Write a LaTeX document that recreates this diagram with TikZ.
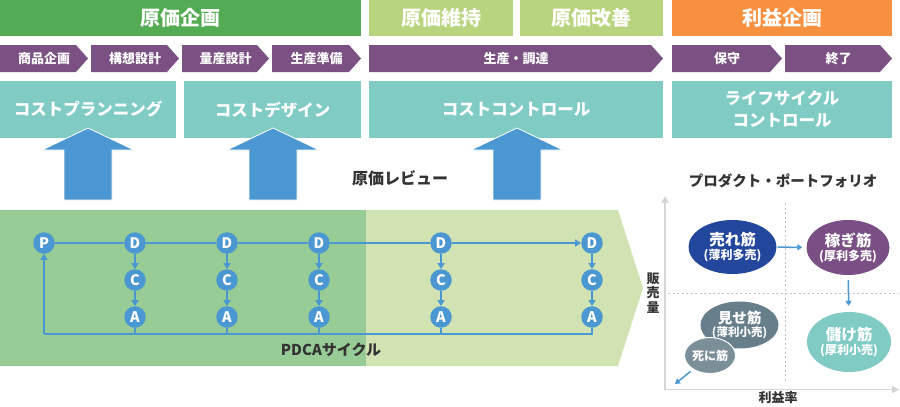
\documentclass[tikz,border=0pt]{standalone}
\usepackage{fontspec}
\setmainfont{Noto Sans CJK JP}
\usetikzlibrary{arrows.meta,shapes.geometric}
\definecolor{gDark}{HTML}{53AC53}
\definecolor{gLightBan}{HTML}{B8D47E}
\definecolor{orangeB}{HTML}{F7913F}
\definecolor{purpleB}{HTML}{7B5083}
\definecolor{tealB}{HTML}{80CBC4}
\definecolor{blueA}{HTML}{4A97D1}
\definecolor{gMid}{HTML}{98CC96}
\definecolor{gPale}{HTML}{D2E3B3}
\definecolor{txtDark}{HTML}{333333}
\definecolor{eBlue}{HTML}{23479C}
\definecolor{ePurple}{HTML}{7A4F85}
\definecolor{eTeal}{HTML}{80CBC3}
\definecolor{eGray}{HTML}{677F8A}
\definecolor{eGrayL}{HTML}{7B8F99}
\definecolor{axisG}{HTML}{D5D5D5}
\definecolor{dotG}{HTML}{BFBFBF}
\newcommand\mychev[4]{%
  \fill[purpleB] (#1,45) -- ({#2-12},45) -- (#2,58.5) -- ({#2-12},72) -- (#1,72) -- cycle;
  \node[chevtext] (#3) at ({(#1+#2)/2},58.5) {#4};}
\newcommand\bigup[2]{%
  \draw[draw=white, line width=0.8pt, fill=blueA] ({#1-24},200) -- ({#1-24},150) -- ({#1-46},150) -- (#1,128) -- ({#1+46},150) -- ({#1+24},150) -- ({#1+24},200) -- cycle;
  \coordinate (#2) at (#1,165);}
\begin{document}
\begin{tikzpicture}[x=1pt,y=-1pt,
  banner/.style={minimum height=36pt, inner sep=0pt, text=white, font=\fontsize{20}{22}\selectfont\bfseries},
  chevtext/.style={inner sep=0pt, text=white, font=\fontsize{13}{15}\selectfont\bfseries},
  tealbox/.style={fill=tealB, minimum height=57pt, inner sep=0pt, text=white, align=center, font=\fontsize{16.5}{22}\selectfont\bfseries},
  pdca/.style={circle, fill=blueA, minimum size=21.5pt, inner sep=0pt, text=white, font=\fontsize{14.5}{14.5}\selectfont\bfseries},
  pline/.style={draw=blueA, line width=1.8pt},
  ptip/.style={pline, -{Triangle[length=6pt,width=7pt]}},
  darktext/.style={text=txtDark, inner sep=0pt, font=\fontsize{16}{18}\selectfont\bfseries},
  port/.style={ellipse, inner sep=0pt, text=white, align=center},
  axisline/.style={draw=axisG, line width=1.5pt, -{Triangle[length=7pt,width=7pt]}},
  dotline/.style={draw=dotG, line width=1pt, dash pattern=on 2pt off 2.5pt},
  parrow/.style={draw=blueA, line width=1.5pt, -{Triangle[length=5pt,width=6pt]}},
  axislabel/.style={text=txtDark, inner sep=0pt, align=center, font=\fontsize{13}{14.5}\selectfont\bfseries}
]
\useasboundingbox (0,0) rectangle (900,407);

% top banners
\node[banner, fill=gDark, minimum width=361pt] (b1) at (180.5,18) {原価企画};
\node[banner, fill=gLightBan, minimum width=144pt] (b2) at (441,18) {原価維持};
\node[banner, fill=gLightBan, minimum width=143pt] (b3) at (591.5,18) {原価改善};
\node[banner, fill=orangeB, minimum width=220pt] (b4) at (782,18) {利益企画};

% chevrons
\mychev{0}{88}{c1}{商品企画}
\mychev{91}{179}{c2}{構想設計}
\mychev{182}{269}{c3}{量産設計}
\mychev{272}{361}{c4}{生産準備}
\mychev{369}{663}{c5}{生産・調達}
\mychev{672}{782}{c6}{保守}
\mychev{785}{892}{c7}{終了}

% teal boxes
\node[tealbox, minimum width=176pt] (t1) at (88,109.5) {コストプランニング};
\node[tealbox, minimum width=177pt] (t2) at (272.5,109.5) {コストデザイン};
\node[tealbox, minimum width=294pt] (t3) at (516,109.5) {コストコントロール};
\node[tealbox, minimum width=220pt] (t4) at (782,109.5) {ライフサイクル\\コントロール};

% big up arrows
\bigup{88}{u1}
\bigup{273}{u2}
\bigup{517}{u3}

\node[darktext] (review) at (400,178) {原価レビュー};

% green region
\fill[gPale] (366,210) -- (618,210) -- (643,288) -- (618,366) -- (366,366) -- cycle;
\fill[gMid] (0,210) rectangle (366,366);

% PDCA nodes
\node[pdca] (P) at (44,243) {P};
\foreach \i/\x in {1/135,2/227,3/319,4/441,5/592}{
  \node[pdca] (D\i) at (\x,243) {D};
  \node[pdca] (C\i) at (\x,280) {C};
  \node[pdca] (A\i) at (\x,317) {A};
}
\coordinate (bl) at (44,334);
\coordinate (br) at (592,334);
\draw[pline] (P) -- (D1) -- (D2) -- (D3) -- (D4);
\draw[ptip] (D4) -- (D5);
\foreach \i in {1,...,5}{
  \draw[ptip] (D\i) -- (C\i);
  \draw[ptip] (C\i) -- (A\i);
}
\foreach \i in {1,...,4}{
  \draw[pline] (A\i) -- (A\i |- bl);
}
\draw[pline] (A5) -- (br) -- (bl);
\draw[ptip] (bl) -- (P);

\node[darktext, font=\fontsize{15}{17}\selectfont\bfseries] (pdcalabel) at (331,350) {PDCAサイクル};

% portfolio
\node[darktext, font=\fontsize{14.5}{16}\selectfont\bfseries] (ptitle) at (783,181) {プロダクト・ポートフォリオ};
\coordinate (org) at (665,389.5);
\coordinate (ytop) at (665,196);
\coordinate (xend) at (899,389.5);
\coordinate (vtop) at (785,203);
\coordinate (vbot) at (785,382);
\coordinate (hl) at (668,293);
\coordinate (hr) at (898,293);
\draw[dotline] (vtop) -- (vbot);
\draw[dotline] (hl) -- (hr);
\draw[axisline] (org) -- (ytop);
\draw[axisline] (org) -- (xend);
\node[axislabel] (ylab) at (653,293) {販\\売\\量};
\node[axislabel] (xlab) at (778,398) {利益率};

\node[port, fill=eBlue, minimum width=88pt, minimum height=54pt] (e1) at (732.5,247)
  {{\fontsize{15.5}{17}\selectfont\bfseries 売れ筋}\\[2pt]{\fontsize{12}{13}\selectfont\bfseries (薄利多売)}};
\node[port, fill=ePurple, minimum width=83pt, minimum height=55pt] (e2) at (848,247.5)
  {{\fontsize{15.5}{17}\selectfont\bfseries 稼ぎ筋}\\[2pt]{\fontsize{12}{13}\selectfont\bfseries (厚利多売)}};
\node[port, fill=eTeal, minimum width=84pt, minimum height=60pt] (e3) at (849,342)
  {{\fontsize{15.5}{17}\selectfont\bfseries 儲け筋}\\[2pt]{\fontsize{12}{13}\selectfont\bfseries (厚利小売)}};
\node[port, fill=eGray, minimum width=71pt, minimum height=47pt] (e4) at (739.5,325)
  {{\fontsize{14.5}{16}\selectfont\bfseries 見せ筋}\\[1pt]{\fontsize{11.5}{12}\selectfont\bfseries (薄利小売)}};
\node[port, fill=eGrayL, draw=white, line width=1pt, minimum width=51pt, minimum height=36pt] (e5) at (710,355.5)
  {\fontsize{12}{14}\selectfont\bfseries 死に筋};
\coordinate (dead) at (675,384);
\draw[parrow, shorten >=4pt, shorten <=1pt] (e1) -- (e2);
\draw[parrow, shorten <=5pt, shorten >=6pt] (e2) -- (e3);
\draw[parrow, shorten <=3pt] (e5) -- (dead);
\end{tikzpicture}
\end{document}
